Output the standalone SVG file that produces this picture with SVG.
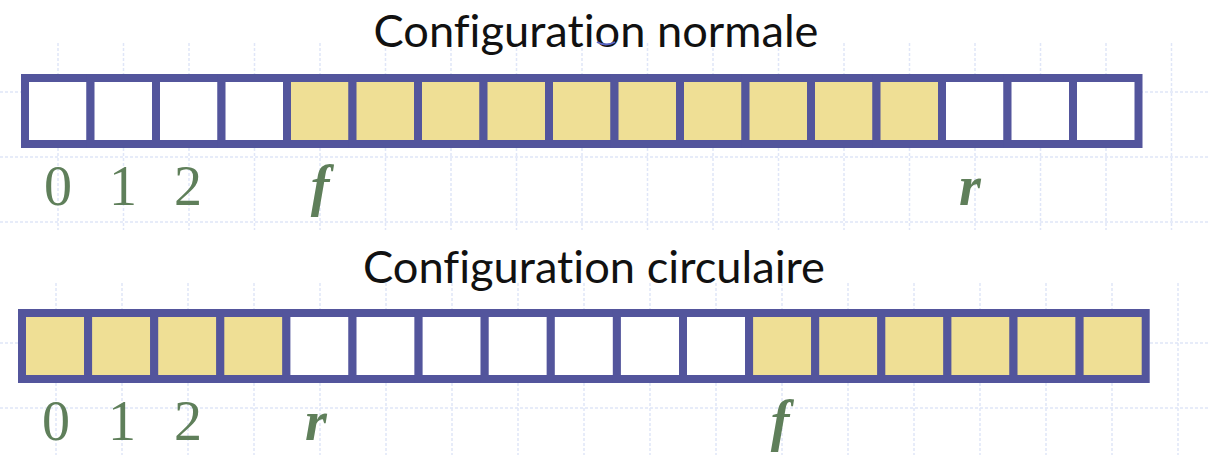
<svg xmlns="http://www.w3.org/2000/svg" width="1208" height="455" viewBox="0 0 1208 455">
<style>
.grid{stroke:#e0e6f8;stroke-width:1.5;stroke-dasharray:3 2;fill:none}
.cell{stroke:#53559c;stroke-width:8;stroke-linejoin:miter}
.e{fill:#ffffff}
.y{fill:#efdf95}
.title{font-family:Lato,"Open Sans","Liberation Sans",sans-serif;font-size:44px;fill:#111111;text-anchor:middle;font-variant-ligatures:none;font-feature-settings:"liga" 0,"dlig" 0}
.num{font-family:"Liberation Serif","DejaVu Serif",serif;font-size:56px;fill:#5f7f5a;text-anchor:middle}
.var{font-family:"Liberation Serif","DejaVu Serif",serif;font-size:56px;fill:#5f7f5a;text-anchor:middle;font-style:italic;font-weight:bold}
</style>
<rect width="1208" height="455" fill="#ffffff"/>
<g id="grid">
<path class="grid" d="M0 92H1208M0 157H1208M0 222H1208M0 343H1208M0 408H1208"/>
<path class="grid" d="M58 43V230M123.5 43V230M189 43V230M254.5 43V230M320 43V230M385.5 43V230M451 43V230M516.5 43V230M582 43V230M647.5 43V230M713 43V230M778.5 43V230M844 43V230M909.5 43V230M975 43V230M1040.5 43V230M1106 43V230M1171.5 43V230"/>
<path class="grid" d="M56 283V455M122 283V455M188 283V455M254 283V455M320 283V455M386 283V455M452 283V455M518 283V455M584 283V455M650 283V455M716 283V455M782 283V455M848 283V455M914 283V455M980 283V455M1046 283V455M1112 283V455M1178 283V455"/>
</g>
<g id="title-normale"><text class="title" x="596" y="47" textLength="445" lengthAdjust="spacingAndGlyphs">Configuration normale</text>
<path d="M597 42 Q606 47 615 42" fill="none" stroke="#5b66c8" stroke-width="2"/></g>
<g id="array-normale">
<g id="n0"><rect class="cell e" x="25" y="78" width="65.5" height="66"/></g>
<g id="n1"><rect class="cell e" x="90.5" y="78" width="65.5" height="66"/></g>
<g id="n2"><rect class="cell e" x="156" y="78" width="65.5" height="66"/></g>
<g id="n3"><rect class="cell e" x="221.5" y="78" width="65.5" height="66"/></g>
<g id="n4"><rect class="cell y" x="287" y="78" width="65.5" height="66"/></g>
<g id="n5"><rect class="cell y" x="352.5" y="78" width="65.5" height="66"/></g>
<g id="n6"><rect class="cell y" x="418" y="78" width="65.5" height="66"/></g>
<g id="n7"><rect class="cell y" x="483.5" y="78" width="65.5" height="66"/></g>
<g id="n8"><rect class="cell y" x="549" y="78" width="65.5" height="66"/></g>
<g id="n9"><rect class="cell y" x="614.5" y="78" width="65.5" height="66"/></g>
<g id="n10"><rect class="cell y" x="680" y="78" width="65.5" height="66"/></g>
<g id="n11"><rect class="cell y" x="745.5" y="78" width="65.5" height="66"/></g>
<g id="n12"><rect class="cell y" x="811" y="78" width="65.5" height="66"/></g>
<g id="n13"><rect class="cell y" x="876.5" y="78" width="65.5" height="66"/></g>
<g id="n14"><rect class="cell e" x="942" y="78" width="65.5" height="66"/></g>
<g id="n15"><rect class="cell e" x="1007.5" y="78" width="65.5" height="66"/></g>
<g id="n16"><rect class="cell e" x="1073" y="78" width="65.5" height="66"/></g>
</g>
<g id="labels-normale">
<text class="num" x="58" y="205">0</text>
<text class="num" x="123" y="205">1</text>
<text class="num" x="188" y="205">2</text>
<text class="var" x="320" y="205">f</text>
<text class="var" x="970" y="205">r</text>
</g>
<g id="title-circulaire"><text class="title" x="594" y="283" textLength="462" lengthAdjust="spacingAndGlyphs">Configuration circulaire</text></g>
<g id="array-circulaire">
<g id="c0"><rect class="cell y" x="22" y="313" width="66.1" height="66"/></g>
<g id="c1"><rect class="cell y" x="88.1" y="313" width="66.1" height="66"/></g>
<g id="c2"><rect class="cell y" x="154.2" y="313" width="66.1" height="66"/></g>
<g id="c3"><rect class="cell y" x="220.3" y="313" width="66.1" height="66"/></g>
<g id="c4"><rect class="cell e" x="286.4" y="313" width="66.1" height="66"/></g>
<g id="c5"><rect class="cell e" x="352.5" y="313" width="66.1" height="66"/></g>
<g id="c6"><rect class="cell e" x="418.6" y="313" width="66.1" height="66"/></g>
<g id="c7"><rect class="cell e" x="484.7" y="313" width="66.1" height="66"/></g>
<g id="c8"><rect class="cell e" x="550.8" y="313" width="66.1" height="66"/></g>
<g id="c9"><rect class="cell e" x="616.9" y="313" width="66.1" height="66"/></g>
<g id="c10"><rect class="cell e" x="683" y="313" width="66.1" height="66"/></g>
<g id="c11"><rect class="cell y" x="749.1" y="313" width="66.1" height="66"/></g>
<g id="c12"><rect class="cell y" x="815.2" y="313" width="66.1" height="66"/></g>
<g id="c13"><rect class="cell y" x="881.3" y="313" width="66.1" height="66"/></g>
<g id="c14"><rect class="cell y" x="947.4" y="313" width="66.1" height="66"/></g>
<g id="c15"><rect class="cell y" x="1013.5" y="313" width="66.1" height="66"/></g>
<g id="c16"><rect class="cell y" x="1079.6" y="313" width="66.1" height="66"/></g>
</g>
<g id="labels-circulaire">
<text class="num" x="56" y="440">0</text>
<text class="num" x="122" y="440">1</text>
<text class="num" x="188" y="440">2</text>
<text class="var" x="316" y="440">r</text>
<text class="var" x="780" y="440">f</text>
</g>
</svg>
